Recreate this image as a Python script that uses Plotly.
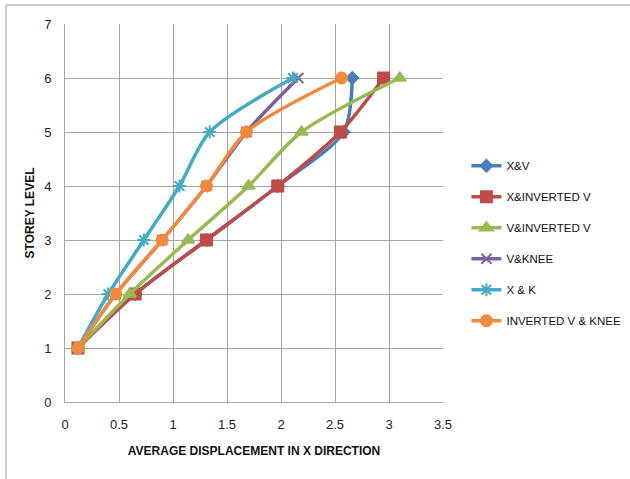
import plotly.graph_objects as go

storey = [1, 2, 3, 4, 5, 6]
series_names = ["X&V", "X&INVERTED V", "V&INVERTED V", "V&KNEE", "X & K", "INVERTED V & KNEE"]
x_v = [0.12, 0.65, 1.31, 1.97, 2.58, 2.66]
x_inv_v = [0.12, 0.65, 1.31, 1.97, 2.55, 2.95]
v_inv_v = [0.12, 0.60, 1.14, 1.70, 2.19, 3.10]
v_knee = [0.12, 0.47, 0.90, 1.31, 1.68, 2.16]
x_k = [0.12, 0.40, 0.73, 1.06, 1.34, 2.11]
inv_v_knee = [0.12, 0.47, 0.90, 1.31, 1.68, 2.56]

colors = ["#4A7EBB", "#BE4B48", "#98B954", "#7D60A0", "#46AAC5", "#F08A3C"]
symbols = ["diamond", "square", "triangle-up", "x-thin-open", "asterisk-open", "circle"]
sizes = [9, 11, 11, 10, 11, 11]
data = [x_v, x_inv_v, v_inv_v, v_knee, x_k, inv_v_knee]

fig = go.Figure()
for i, (name, xs) in enumerate(zip(series_names, data)):
    fig.add_trace(go.Scatter(
        x=xs, y=storey, name=name, mode="lines+markers",
        line=dict(color=colors[i], width=3.5, shape="spline", smoothing=0.8),
        marker=dict(symbol=symbols[i], size=sizes[i], color=colors[i],
                    line=dict(color=colors[i], width=2)),
        legendgroup=f"g{i}",
    ))

grid = "#A6A6A6"
fig.update_layout(
    width=630, height=479,
    margin=dict(l=65, r=187, t=24, b=77, autoexpand=False),
    paper_bgcolor="white", plot_bgcolor="white",
    font=dict(family="Liberation Sans", size=12, color="#222"),
    showlegend=True,
    legend=dict(x=1.062, y=0.42, xanchor="left", yanchor="middle",
                font=dict(size=11.5, color="#111"), tracegroupgap=12,
                itemwidth=30, bgcolor="rgba(0,0,0,0)"),
    xaxis=dict(range=[0, 3.5], dtick=0.5, showgrid=True, gridcolor=grid, gridwidth=1,
               showline=True, linecolor=grid, zeroline=False,
               ticks="outside", ticklen=10, tickcolor="rgba(0,0,0,0)",
               tickfont=dict(size=13, color="#222"), automargin=False,
               title=dict(text="<b>AVERAGE DISPLACEMENT IN X DIRECTION</b>", font=dict(size=12, color="#111"),
                          standoff=16)),
    yaxis=dict(range=[0, 7], dtick=1, showgrid=True, gridcolor=grid, gridwidth=1,
               showline=True, linecolor=grid, zeroline=False,
               ticks="outside", ticklen=10, tickcolor="rgba(0,0,0,0)",
               tickfont=dict(size=13, color="#222"), automargin=False,
               title=dict(text="<b>STOREY LEVEL</b>", font=dict(size=12, color="#111"),
                          standoff=6)),
    shapes=[
        dict(type="line", xref="paper", yref="paper", x0=-59/378, x1=(625-65)/378 + 0.02,
             y0=1 + 19/378, y1=1 + 19/378, line=dict(color="#BBBBBB", width=1.5)),
        dict(type="line", xref="paper", yref="paper", x0=-59/378, x1=-59/378,
             y0=1 + 19/378, y1=-77/378, line=dict(color="#BBBBBB", width=1.5)),
    ],
)
fig.write_html("out.html")
